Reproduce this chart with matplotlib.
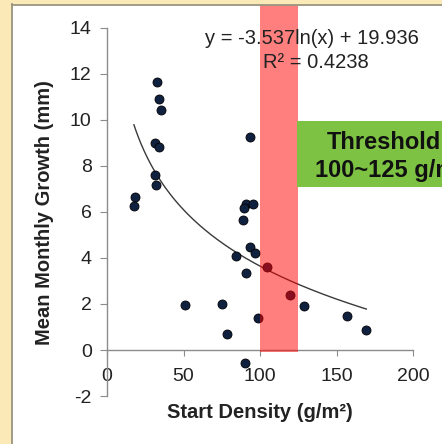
import matplotlib
matplotlib.use("Agg")
import matplotlib.pyplot as plt
import numpy as np
from matplotlib.patches import Rectangle

plt.rcParams['font.family'] = ['Liberation Sans', 'DejaVu Sans']
plt.rcParams['axes.unicode_minus'] = False

# Data
start_density = [32.4, 34.2, 35.3, 31.6, 34.2, 31.6, 32.2, 18.5, 17.6, 93.5, 90.6,
                 89.3, 95.6, 88.9, 93.5, 96.7, 84.1, 90.6, 104.8, 119.6, 51.0, 75.4,
                 128.8, 98.5, 156.7, 78.4, 169.5, 90.2]
growth = [11.64, 10.9, 10.42, 9.0, 8.84, 7.62, 7.19, 6.64, 6.27, 9.25, 6.35,
          6.16, 6.35, 5.65, 4.48, 4.22, 4.09, 3.36, 3.6, 2.38, 1.94, 1.99,
          1.9, 1.39, 1.48, 0.71, 0.88, -0.55]
trend_a = -3.537
trend_b = 19.936
r_squared = 0.4238
threshold_low, threshold_high = 100, 125
x_ticks = [0, 50, 100, 150, 200]
y_ticks = [-2, 0, 2, 4, 6, 8, 10, 12, 14]

W, H = 442, 444
fig = plt.figure(figsize=(W / 100, H / 100), dpi=100, facecolor='white')

# frame decoration
cream = '#fbe9b8'
fig.patches.append(Rectangle((0, 0), 11 / W, 1, transform=fig.transFigure, color=cream, zorder=0))
fig.patches.append(Rectangle((0, 1 - 4.5 / H), 1, 4.5 / H, transform=fig.transFigure, color=cream, zorder=0))
fig.lines.append(plt.Line2D([11.5 / W, 11.5 / W], [0, 1 - 4.5 / H], transform=fig.transFigure, color='#9a9580', lw=1.3))
fig.lines.append(plt.Line2D([11.5 / W, 1], [1 - 5 / H, 1 - 5 / H], transform=fig.transFigure, color='#9a9580', lw=1.3))

ax = fig.add_axes([107 / W, 1 - 396 / H, (413 - 107) / W, 368 / H])
ax.set_facecolor('none')
ax.set_xlim(0, 200)
ax.set_ylim(-2, 14)

for s in ['top', 'right']:
    ax.spines[s].set_visible(False)
ax.spines['bottom'].set_position(('data', 0))
for s in ['left', 'bottom']:
    ax.spines[s].set_color('#8c8c8c')
    ax.spines[s].set_linewidth(1.0)

ax.set_xticks(x_ticks)
ax.set_yticks(y_ticks)
ax.tick_params(axis='x', direction='out', length=4, color='#8c8c8c', pad=9,
               labelsize=14, labelcolor='#222222')
ax.tick_params(axis='y', direction='out', length=5, color='#8c8c8c', pad=6,
               labelsize=14, labelcolor='#222222')

# scatter
ax.scatter(start_density, growth, s=42, color='#10203f', edgecolors='#000000',
           linewidths=0.6, zorder=3, clip_on=False)

# trendline
xs = np.linspace(min(start_density), max(start_density), 200)
ax.plot(xs, trend_a * np.log(xs) + trend_b, color='#3a3a3a', lw=1.0, zorder=2)

# equation text
fig.text(312 / W, 1 - 38 / H, f"y = {trend_a}ln(x) + {trend_b}", ha='center', va='center',
         fontsize=14.5, color='#222222', zorder=4)
fig.text(316 / W, 1 - 62 / H, f"R² = {r_squared}", ha='center', va='center',
         fontsize=14.5, color='#222222', zorder=4)

# threshold band
ax.add_patch(Rectangle((threshold_low, -0.1), threshold_high - threshold_low, 15.1,
                       facecolor='#ff0000', alpha=0.5, edgecolor='none',
                       zorder=5, clip_on=False))

# green label box
fig.patches.append(Rectangle((297 / W, 1 - 187 / H), 160 / W, 66 / H, transform=fig.transFigure,
                             facecolor='#7dc242', edgecolor='none', zorder=6))
fig.text(327 / W, 1 - 142 / H, "Threshold", ha='left', va='center', fontsize=17,
         fontweight='bold', color='#111111', zorder=7)
fig.text(315 / W, 1 - 170 / H, "100~125 g/m²", ha='left', va='center', fontsize=17,
         fontweight='bold', color='#111111', zorder=7)

fig.text(260 / W, 1 - 412 / H, "Start Density (g/m²)", ha='center', va='center',
         fontsize=14.5, fontweight='bold', color='#222222')
fig.text(45 / W, 1 - 213 / H, "Mean Monthly Growth (mm)", ha='center', va='center',
         rotation=90, fontsize=14.5, fontweight='bold', color='#222222')

fig.savefig("out.png", dpi=100, facecolor='white')
